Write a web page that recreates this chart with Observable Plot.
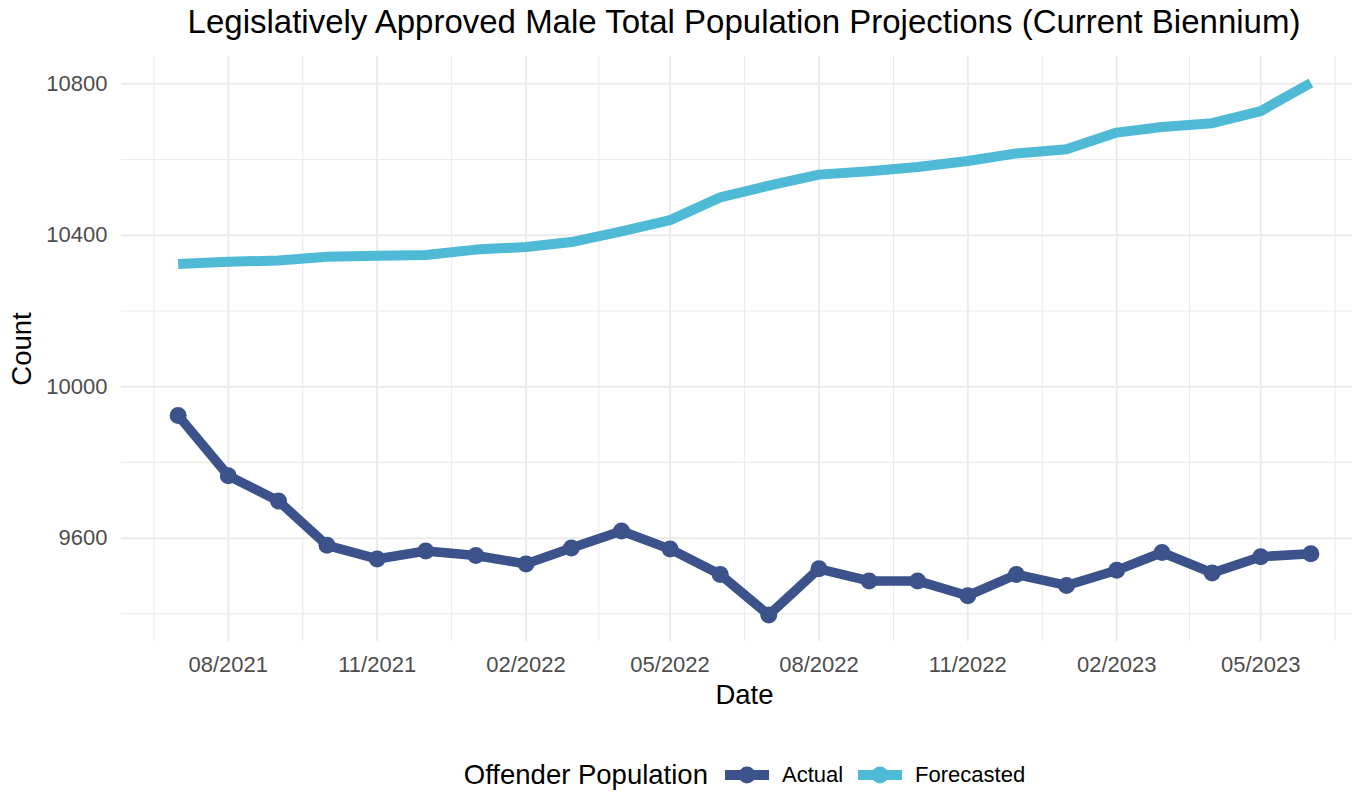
<!DOCTYPE html>
<html>
<head>
<meta charset="utf-8">
<script src="https://cdn.jsdelivr.net/npm/d3@7"></script>
<script src="https://cdn.jsdelivr.net/npm/@observablehq/plot@0.6"></script>
<style>
  html, body { margin: 0; padding: 0; background: #fff; overflow: hidden; }
  body { width: 1352px; height: 794px; position: relative; font-family: "Liberation Sans", Arial, sans-serif; }
  #title { position: absolute; left: 0; top: 0; width: 1352px; height: 44px; line-height: 44px; font-size: 33px; color: #000; }
  #title span { position: absolute; left: 744px; transform: translateX(-50%); white-space: nowrap; }
  #chart { position: absolute; left: 0; top: 44px; }
  #legend { position: absolute; left: 0; top: 755px; width: 1352px; height: 40px; display: flex; align-items: center; justify-content: center; box-sizing: border-box; padding-left: 137px; }
  #legend .ltitle { font-size: 27.5px; color: #000; margin-right: 17px; }
  #legend .ltext { font-size: 22px; color: #000; margin-left: 13px; margin-right: 15px; }
  #legend svg { display: block; }
</style>
</head>
<body>
<div id="title"><span>Legislatively Approved Male Total Population Projections (Current Biennium)</span></div>
<div id="chart"></div>
<div id="legend"></div>
<script>
// ---- data ----
const months = [
  "2021-07-01","2021-08-01","2021-09-01","2021-10-01","2021-11-01","2021-12-01",
  "2022-01-01","2022-02-01","2022-03-01","2022-04-01","2022-05-01","2022-06-01",
  "2022-07-01","2022-08-01","2022-09-01","2022-10-01","2022-11-01","2022-12-01",
  "2023-01-01","2023-02-01","2023-03-01","2023-04-01","2023-05-01","2023-06-01"
];
const actual = [
  9924, 9765, 9698, 9581, 9545, 9566,
  9554, 9532, 9574, 9619, 9571, 9504,
  9397, 9519, 9487, 9487, 9448, 9504,
  9475, 9515, 9562, 9508, 9551, 9559
];
const forecasted = [
  10324, 10330, 10333, 10343, 10346, 10348,
  10362, 10369, 10382, 10410, 10440, 10500,
  10531, 10560, 10569, 10580, 10596, 10616,
  10627, 10671, 10686, 10696, 10728, 10802
];
const seriesNames = ["Actual", "Forecasted"];
const seriesColors = ["#3B528B", "#4EBAD5"];
const xMajorTicks = ["2021-08-01","2021-11-01","2022-02-01","2022-05-01","2022-08-01","2022-11-01","2023-02-01","2023-05-01"];
const xMinorTicks = ["2021-06-16","2021-09-16","2021-12-17","2022-03-18","2022-06-16","2022-09-16","2022-12-17","2023-03-18","2023-06-16"];
const yMajorTicks = [9600, 10000, 10400, 10800];
const yMinorTicks = [9400, 9800, 10200, 10600];
const xDomain = ["2021-05-27", "2023-07-06"];
const yDomain = [9327, 10872];

// ---- build ----
const parse = d3.utcParse("%Y-%m-%d");
const rows = [];
months.forEach((m, i) => {
  rows.push({date: parse(m), value: actual[i], series: seriesNames[0]});
  rows.push({date: parse(m), value: forecasted[i], series: seriesNames[1]});
});
const actualRows = rows.filter(d => d.series === seriesNames[0]);
const forecastRows = rows.filter(d => d.series === seriesNames[1]);

const W = 1352, H = 686;
const mL = 121, mR = 0, mT = 12, mB = 89;
const font = "Liberation Sans, Arial, sans-serif";

const chart = Plot.plot({
  width: W,
  height: H,
  marginLeft: mL,
  marginRight: mR,
  marginTop: mT,
  marginBottom: mB,
  style: {fontFamily: font, background: "#fff", overflow: "visible"},
  x: {type: "utc", domain: xDomain.map(parse), range: [mL, 1367]},
  y: {domain: yDomain},
  color: {domain: seriesNames, range: seriesColors},
  marks: [
    Plot.ruleY(yMinorTicks, {stroke: "#ebebeb", strokeWidth: 1.1}),
    Plot.ruleX(xMinorTicks.map(parse), {stroke: "#ebebeb", strokeWidth: 1.1}),
    Plot.ruleY(yMajorTicks, {stroke: "#ebebeb", strokeWidth: 2}),
    Plot.ruleX(xMajorTicks.map(parse), {stroke: "#ebebeb", strokeWidth: 2}),
    Plot.axisY({ticks: yMajorTicks, tickFormat: d => String(d), tickSize: 0, tickPadding: 14, fontSize: 22, color: "#4d4d4d", label: null}),
    Plot.axisX({ticks: xMajorTicks.map(parse), tickFormat: d3.utcFormat("%m/%Y"), tickSize: 0, tickPadding: 15, fontSize: 22, color: "#4d4d4d", label: null}),
    Plot.line(forecastRows, {x: "date", y: "value", stroke: "series", strokeWidth: 10, strokeLinecap: "butt", strokeLinejoin: "round"}),
    Plot.line(actualRows, {x: "date", y: "value", stroke: "series", strokeWidth: 9.5, strokeLinecap: "butt", strokeLinejoin: "round"}),
    Plot.dot(actualRows, {x: "date", y: "value", fill: "series", r: 8.5, stroke: null}),
    Plot.text(["Count"], {frameAnchor: "left", textAnchor: "middle", dx: -99, rotate: -90, fontSize: 27.5, fill: "#000", lineAnchor: "middle"}),
    Plot.text(["Date"], {frameAnchor: "bottom", textAnchor: "middle", dx: 7.5, dy: 54, fontSize: 27.5, fill: "#000", lineAnchor: "middle"})
  ]
});
document.getElementById("chart").appendChild(chart);

// ---- legend ----
const legend = document.getElementById("legend");
const lt = document.createElement("span");
lt.className = "ltitle";
lt.textContent = "Offender Population";
legend.appendChild(lt);
seriesNames.forEach((name, i) => {
  const ns = "http://www.w3.org/2000/svg";
  const svg = document.createElementNS(ns, "svg");
  svg.setAttribute("width", 44);
  svg.setAttribute("height", 24);
  const line = document.createElementNS(ns, "line");
  line.setAttribute("x1", 0); line.setAttribute("x2", 44);
  line.setAttribute("y1", 12); line.setAttribute("y2", 12);
  line.setAttribute("stroke", seriesColors[i]);
  line.setAttribute("stroke-width", 10);
  svg.appendChild(line);
  const c = document.createElementNS(ns, "circle");
  c.setAttribute("cx", 22); c.setAttribute("cy", 12); c.setAttribute("r", 8.5);
  c.setAttribute("fill", seriesColors[i]);
  svg.appendChild(c);
  legend.appendChild(svg);
  const t = document.createElement("span");
  t.className = "ltext";
  t.textContent = name;
  if (i === seriesNames.length - 1) t.style.marginRight = "0px";
  legend.appendChild(t);
});
</script>
</body>
</html>
